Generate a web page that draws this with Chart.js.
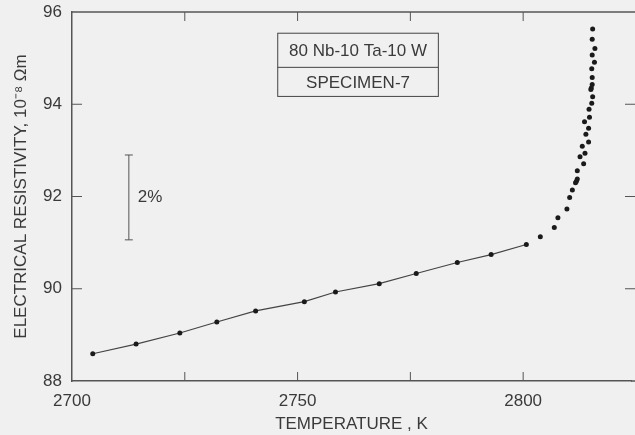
<!DOCTYPE html>
<html>
<head>
<meta charset="utf-8">
<script src="https://cdn.jsdelivr.net/npm/chart.js@4/dist/chart.umd.min.js"></script>
<style>
    html, body { margin: 0; padding: 0; background: #f0f0f0; }
    canvas { display: block; }
</style>
</head>
<body>
<canvas id="resistChart" width="635" height="435"></canvas>
<script>
// linear part, joined by a line
const lineTemps = [2704.6, 2714.2, 2723.9, 2732.1, 2740.7, 2751.5, 2758.4, 2768.1, 2776.3, 2785.4, 2792.9, 2800.7];
const lineResist = [88.59, 88.80, 89.04, 89.28, 89.52, 89.72, 89.93, 90.11, 90.33, 90.57, 90.74, 90.96];

// steep rise, dots only
const riseTemps = [2803.8, 2806.9, 2807.7, 2809.7, 2810.3, 2810.9, 2811.6, 2811.8, 2812.0, 2812.0, 2813.4, 2812.6,
    2813.7, 2813.1, 2814.5, 2813.9, 2814.5, 2813.6, 2814.7, 2814.6, 2815.2, 2815.4, 2815.0, 2815.1, 2815.3, 2815.3,
    2815.2, 2815.8, 2815.3, 2815.9, 2815.3, 2815.4];
const riseResist = [91.13, 91.33, 91.54, 91.73, 91.98, 92.14, 92.30, 92.33, 92.38, 92.56, 92.71, 92.86,
    92.94, 93.09, 93.18, 93.35, 93.48, 93.62, 93.72, 93.89, 94.02, 94.16, 94.32, 94.35, 94.43, 94.58,
    94.77, 94.91, 95.07, 95.21, 95.41, 95.63];

const xLabels = [2700, 2750, 2800];
const yLabels = [88, 90, 92, 94, 96];
const xTicks = [2725, 2750, 2775, 2800];
const yTicks = [90, 92, 94];
const boxLines = ['80 Nb-10 Ta-10 W', 'SPECIMEN-7'];

const ink = '#3a3a3a';
const font = 'Liberation Sans, Arial, sans-serif';

const toPoints = (xs, ys) => xs.map((x, i) => ({ x: x, y: ys[i] }));

const extras = {
    id: 'extras',
    beforeDraw(chart) {
        const ctx = chart.ctx;
        ctx.save();
        ctx.fillStyle = '#f0f0f0';
        ctx.fillRect(0, 0, chart.width, chart.height);
        ctx.restore();
    },
    afterDraw(chart) {
        const ctx = chart.ctx;
        const area = chart.chartArea;
        const xs = chart.scales.x;
        const ys = chart.scales.y;
        const edge = chart.width;
        ctx.save();
        ctx.strokeStyle = '#555';
        ctx.lineWidth = 1.4;

        // top border, and the frame running off the right edge
        ctx.beginPath();
        ctx.moveTo(area.left, area.top);
        ctx.lineTo(edge, area.top);
        ctx.moveTo(area.right, area.bottom);
        ctx.lineTo(edge, area.bottom);
        ctx.stroke();

        // inward ticks
        ctx.lineWidth = 1;
        ctx.beginPath();
        for (let v of xTicks) {
            const px = xs.getPixelForValue(v);
            ctx.moveTo(px, area.bottom);
            ctx.lineTo(px, area.bottom - 9);
            ctx.moveTo(px, area.top);
            ctx.lineTo(px, area.top + 9);
        }
        for (let v of yTicks) {
            const py = ys.getPixelForValue(v);
            ctx.moveTo(area.left, py);
            ctx.lineTo(area.left + 10, py);
            ctx.moveTo(edge, py);
            ctx.lineTo(edge - 10, py);
        }
        ctx.stroke();

        // 2% bar
        const bx = xs.getPixelForValue(2712.6);
        const b1 = ys.getPixelForValue(92.9);
        const b2 = ys.getPixelForValue(91.06);
        ctx.beginPath();
        ctx.moveTo(bx, b1);
        ctx.lineTo(bx, b2);
        ctx.moveTo(bx - 4, b1);
        ctx.lineTo(bx + 4, b1);
        ctx.moveTo(bx - 4, b2);
        ctx.lineTo(bx + 4, b2);
        ctx.stroke();
        ctx.fillStyle = ink;
        ctx.font = '17px ' + font;
        ctx.textAlign = 'left';
        ctx.textBaseline = 'middle';
        ctx.fillText('2%', bx + 9, (b1 + b2) / 2);

        // label box
        const l = xs.getPixelForValue(2745.6);
        const r = xs.getPixelForValue(2781.2);
        const t = ys.getPixelForValue(95.54);
        const m = ys.getPixelForValue(94.8);
        const b = ys.getPixelForValue(94.17);
        ctx.strokeStyle = '#444';
        ctx.strokeRect(l, t, r - l, b - t);
        ctx.beginPath();
        ctx.moveTo(l, m);
        ctx.lineTo(r, m);
        ctx.stroke();
        ctx.textAlign = 'center';
        ctx.font = '17px ' + font;
        ctx.fillText(boxLines[0], (l + r) / 2, (t + m) / 2 + 1);
        ctx.fillText(boxLines[1], (l + r) / 2, (m + b) / 2 + 1);
        ctx.restore();
    }
};

new Chart(document.getElementById('resistChart').getContext('2d'), {
    type: 'scatter',
    data: {
        datasets: [{
            data: toPoints(lineTemps, lineResist),
            showLine: true,
            borderColor: '#444',
            borderWidth: 1.2,
            pointRadius: 2.5,
            pointBorderWidth: 0,
            pointBackgroundColor: '#1a1a1a'
        }, {
            data: toPoints(riseTemps, riseResist),
            showLine: false,
            pointRadius: 2.5,
            pointBorderWidth: 0,
            pointBackgroundColor: '#1a1a1a'
        }]
    },
    plugins: [extras],
    options: {
        responsive: false,
        animation: false,
        layout: { padding: { top: 12, right: 0, left: 0, bottom: 0 } },
        plugins: {
            legend: { display: false },
            tooltip: { enabled: false }
        },
        scales: {
            x: {
                type: 'linear',
                min: 2700,
                max: 2823.9,
                afterBuildTicks: (s) => { s.ticks = xLabels.map(v => ({ value: v })); },
                afterFit: (s) => { s.height = 54; },
                grid: { display: false, drawTicks: false },
                border: { display: true, color: '#555', width: 1.5 },
                ticks: {
                    autoSkip: false,
                    maxRotation: 0,
                    padding: 10,
                    color: ink,
                    font: { family: font, size: 17 },
                    callback: (v) => String(v)
                },
                title: {
                    display: true,
                    text: 'TEMPERATURE , K',
                    color: ink,
                    padding: { top: 0, bottom: 0 },
                    font: { family: font, size: 17 }
                }
            },
            y: {
                min: 88,
                max: 96,
                afterBuildTicks: (s) => { s.ticks = yLabels.map(v => ({ value: v })); },
                afterFit: (s) => { s.width = 72; },
                grid: { display: false, drawTicks: false },
                border: { display: true, color: '#555', width: 1.5 },
                ticks: {
                    padding: 10,
                    color: ink,
                    font: { family: font, size: 17, lineHeight: 0.1 }
                },
                title: {
                    display: true,
                    text: 'ELECTRICAL RESISTIVITY, 10\u207B\u2078 \u03A9m',
                    color: ink,
                    padding: { top: 11, bottom: 0 },
                    font: { family: font, size: 17 }
                }
            }
        }
    }
});
</script>
</body>
</html>
